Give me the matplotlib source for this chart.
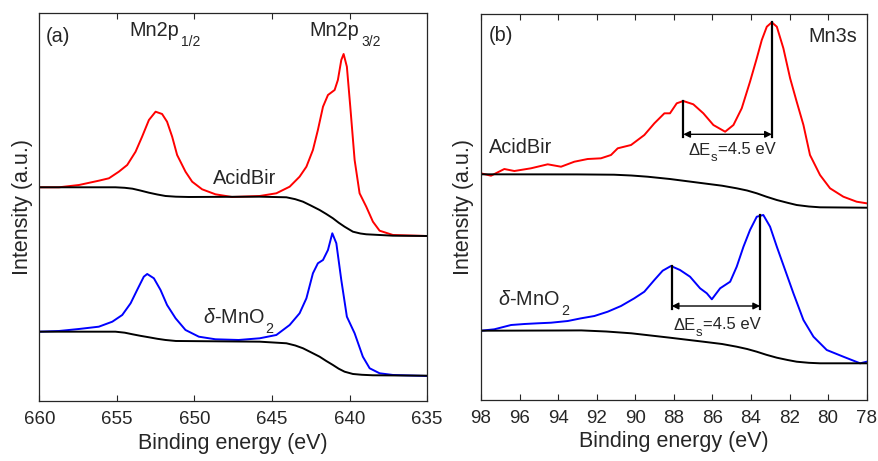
import numpy as np
import matplotlib
matplotlib.use('Agg')
import matplotlib.pyplot as plt

plt.rcParams['font.family'] = ['Liberation Sans', 'DejaVu Sans']
plt.rcParams['mathtext.fontset'] = 'custom'
plt.rcParams['mathtext.rm'] = 'Liberation Sans'
plt.rcParams['mathtext.it'] = 'Liberation Sans:italic'
plt.rcParams['mathtext.bf'] = 'Liberation Sans:bold'

# ---- Mn2p (panel a) ----
e_acid_2p = [660, 658.74, 657.45, 656.17, 655.52, 654.88, 654.34, 653.8, 653.38, 652.94, 652.51,
             652.09, 651.77, 651.44, 651.12, 650.58, 650.15, 649.51, 648.65, 647.58, 645.79,
             644.72, 643.86, 643.22, 642.78, 642.36, 642.04, 641.71, 641.39, 640.96, 640.75,
             640.53, 640.38, 640.17, 639.95, 639.67, 639.35, 638.92, 638.49, 638.06, 637.2, 635]
i_acid_2p = [212.7, 212.7, 215, 219.3, 221.7, 228.3, 235, 248.3, 263.3, 280, 288.3,
             286, 278.3, 263.3, 245, 228.3, 218.3, 210.7, 205.7, 203, 204,
             206.7, 213.3, 223.3, 233.3, 250, 270, 293.3, 305, 310, 320,
             340, 346, 333.3, 293.3, 240, 206.7, 193.3, 178.3, 169.3, 165, 164]
e_acid_2p_bg = [660, 655.1, 654.5, 654.0, 653.5, 652.94, 652.4, 651.87, 651.2, 650.37, 645.79,
                644.07, 643.5, 643.0, 642.5, 641.93, 641.5, 641.07, 640.7, 640.32, 639.78,
                639.3, 638.92, 637.2, 635]
i_acid_2p_bg = [212.7, 212.7, 212.2, 211.3, 209.5, 207.3, 205.5, 204, 203.3, 203, 203.3,
                202.7, 200.8, 198.3, 194.5, 190, 186, 181.7, 177.3, 173.3, 168.3,
                166.5, 165.7, 164.3, 164]

e_mno2_2p = [660, 658.74, 657.45, 656.17, 655.3, 654.66, 654.12, 653.7, 653.27, 653.05, 652.62,
             652.19, 651.77, 651.22, 650.58, 649.72, 648.65, 647.15, 645.79, 644.72, 643.86,
             643.22, 642.78, 642.36, 642.04, 641.71, 641.39, 641.11, 640.85, 640.53, 640.17,
             639.67, 639.14, 638.7, 638.06, 637.2, 635]
i_mno2_2p = [68.3, 69, 71, 73.3, 78.3, 85, 96.7, 110, 123.3, 126, 121.7,
             110, 95, 81.7, 70, 63.3, 60.7, 60, 61.7, 65, 75,
             86.7, 101.7, 126.7, 136.7, 140, 150, 166.7, 156.7, 120, 83.3,
             66.7, 43.3, 31.7, 26.7, 25, 24]
e_mno2_2p_bg = [660, 655.1, 654.5, 654.0, 653.5, 652.94, 652.4, 651.87, 651.2, 645.79,
                644.07, 643.5, 643.0, 642.5, 641.93, 641.5, 641.07, 640.7, 640.32, 639.78,
                639.2, 638.5, 635]
i_mno2_2p_bg = [68.3, 68.3, 67.3, 65.7, 64.2, 62.7, 61.2, 60, 59, 58.3,
                56.7, 54.5, 51.7, 47.8, 43.3, 39, 35, 31.3, 28.3, 26,
                25.2, 24.7, 24.3]

# ---- Mn3s (panel b) ----
e_acid_3s = [98, 97.48, 96.79, 96.27, 95.41, 94.54, 93.85, 93.16, 92.47, 91.78, 91.26, 90.91,
             90.22, 89.53, 89.01, 88.49, 88.2, 87.85, 87.51, 86.99, 86.47, 85.95, 85.34, 84.91,
             84.48, 84.05, 83.7, 83.44, 83.18, 82.92, 82.66, 82.32, 81.97, 81.63, 81.28, 80.94,
             80.42, 79.9, 79.21, 78.52, 78]
i_acid_3s = [226.7, 224.3, 231, 229, 231.7, 235.7, 233.3, 238.3, 241, 241.7, 245, 251.7,
             255, 265, 276.7, 286.7, 286.7, 296.7, 299, 295.7, 286.7, 275, 268.3, 275,
             291.7, 318.3, 341.7, 360, 373.3, 377.7, 373.3, 351.7, 321.7, 298.3, 275, 245,
             225, 211.7, 203.3, 198.3, 196.7]
e_acid_3s_bg = [98, 93, 91.1, 90.2, 89.36, 88.2, 86.47, 85.5, 84.74, 84.2, 83.7, 83.2,
                82.66, 82.1, 81.63, 81.0, 80.42, 78]
i_acid_3s_bg = [225.7, 225.6, 225.3, 224.5, 223.3, 221, 216.7, 214.3, 211.7, 209.5, 206.7, 203.3,
                200, 197.2, 195, 193.5, 192.7, 192.3]

e_mno2_3s = [98, 97.31, 96.44, 95.75, 95.06, 94.37, 93.5, 92.81, 92.12, 91.43, 90.74, 90.05,
             89.53, 89.01, 88.58, 88.15, 87.68, 87.16, 86.64, 86.29, 86.03, 85.6, 85.08, 84.74,
             84.39, 84.05, 83.7, 83.36, 83.01, 82.66, 82.23, 81.8, 81.28, 80.76, 80.07, 79.21,
             78.34, 78]
i_mno2_3s = [69.3, 70.7, 75, 76, 76.7, 77.3, 79, 81.7, 84, 88.3, 94, 101.7,
             108.3, 120, 129.3, 134, 130, 123.3, 111.7, 106.7, 100.7, 111.7, 118.3, 133.3,
             153.3, 170, 183.3, 185, 173.3, 153.3, 130, 106.7, 80, 63.3, 50, 43.3,
             36.7, 38.3]
e_mno2_3s_bg = [98, 94, 92.8, 91.5, 90.2, 89.2, 88.2, 86.47, 85.5, 84.74, 84.2, 83.7, 83.2,
                82.66, 82.1, 81.63, 81.0, 80.42, 78]
i_mno2_3s_bg = [69.3, 69.5, 69.6, 68.5, 66.7, 64.5, 62.3, 58.3, 56, 53.3, 51, 48.3, 45.2,
                42.3, 40, 38.3, 37.2, 36.7, 36.7]

# multiplet splitting: left peak, right peak, arrow level, left line top, right line top
split_acid = [87.51, 82.92, 265.7, 299, 377.7]
split_mno2 = [88.11, 83.53, 94, 134, 185]
split_text_pos = [(87.26, 245), (88.04, 70)]

red = '#ff0000'
blue = '#0000ff'
txt = '#262626'
fs_tick = 13.5
fs_lab = 15.5
fs_ann = 14.3


def label(ax, x, y, parts, fs, sub_fs, drop, gap):
    # parts: list of (string, is_subscript); first part is the main text
    first = ax.text(x, y, parts[0][0], fontsize=fs, color=txt, va='baseline')
    desc = 0.212 * fs
    prev = first
    for s, is_sub in parts[1:]:
        dy = desc - drop if is_sub else desc
        dx = gap if is_sub else 0.3
        prev = ax.annotate(s, xy=(1, 0), xycoords=(prev, first), xytext=(dx, dy),
                           textcoords='offset points', fontsize=sub_fs if is_sub else fs,
                           color=txt, va='baseline', ha='left')
    return first


fig = plt.figure(figsize=(8.79, 4.61), dpi=100)
ax1 = fig.add_axes([0.0449, 0.1302, 0.4409, 0.8416])
ax2 = fig.add_axes([0.5472, 0.1334, 0.4388, 0.8362])

ax1.plot(e_acid_2p, i_acid_2p, color=red, lw=1.4)
ax1.plot(e_acid_2p_bg, i_acid_2p_bg, color='k', lw=1.4)
ax1.plot(e_mno2_2p, i_mno2_2p, color=blue, lw=1.4)
ax1.plot(e_mno2_2p_bg, i_mno2_2p_bg, color='k', lw=1.4)
ax1.set_xlim(660, 635)
ax1.set_ylim(-1, 387)
ax1.set_xticks([660, 655, 650, 645, 640, 635])

ax2.plot(e_acid_3s, i_acid_3s, color=red, lw=1.4)
ax2.plot(e_acid_3s_bg, i_acid_3s_bg, color='k', lw=1.4)
ax2.plot(e_mno2_3s, i_mno2_3s, color=blue, lw=1.4)
ax2.plot(e_mno2_3s_bg, i_mno2_3s_bg, color='k', lw=1.4)
ax2.set_xlim(98, 78)
ax2.set_ylim(0.5, 386)
ax2.set_xticks(np.arange(98, 77, -2))

for s, (tx, ty) in zip([split_acid, split_mno2], split_text_pos):
    x1, x2, ya, t1, t2 = s
    ax2.plot([x1, x1], [ya - 3, t1], color='k', lw=1.6)
    ax2.plot([x2, x2], [ya - 3, t2], color='k', lw=1.6)
    ax2.annotate('', xy=(x1, ya), xytext=(x2, ya),
                 arrowprops=dict(arrowstyle='<|-|>', color='k', lw=1.0,
                                 mutation_scale=10, shrinkA=0, shrinkB=0))
    label(ax2, tx, ty, [('\u0394E', False), ('s', True), ('=4.5 eV', False)],
          12, 9.5, 4.8, 0.3)

for ax in (ax1, ax2):
    ax.set_yticks([])
    ax.set_xlabel('Binding energy (eV)', fontsize=fs_lab, color=txt, labelpad=3)
    ax.set_ylabel('Intensity (a.u.)', fontsize=fs_lab, color=txt, labelpad=5)
    ax.tick_params(axis='x', direction='in', top=True, length=4, width=0.8,
                   labelsize=fs_tick, colors=txt, pad=7.5)
    for sp in ax.spines.values():
        sp.set_color(txt)
        sp.set_linewidth(0.9)

# panel a labels
ax1.text(659.6, 358.3, '(a)', fontsize=fs_ann, color=txt, va='baseline')
label(ax1, 654.17, 363.7, [('Mn2p', False), ('1/2', True)], fs_ann, 10, 6.8, 1.2)
label(ax1, 642.57, 363.7, [('Mn2p', False), ('3/2', True)], fs_ann, 10, 6.8, 1.2)
ax1.text(648.82, 215.7, 'AcidBir', fontsize=fs_ann, color=txt, va='baseline')
label(ax1, 649.45, 77, [(r'$\delta$-MnO', False), ('2', True)], fs_ann, 10.3, 7.5, 0.6)

# panel b labels
ax2.text(97.62, 359.3, '(b)', fontsize=fs_ann, color=txt, va='baseline')
ax2.text(78.51, 358.3, 'Mn3s', fontsize=fs_ann, color=txt, ha='right', va='baseline')
ax2.text(97.57, 246.7, 'AcidBir', fontsize=fs_ann, color=txt, va='baseline')
label(ax2, 97.1, 95.5, [(r'$\delta$-MnO', False), ('2', True)], fs_ann, 10.3, 7.5, 0.6)

fig.savefig('out.png', dpi=100)
